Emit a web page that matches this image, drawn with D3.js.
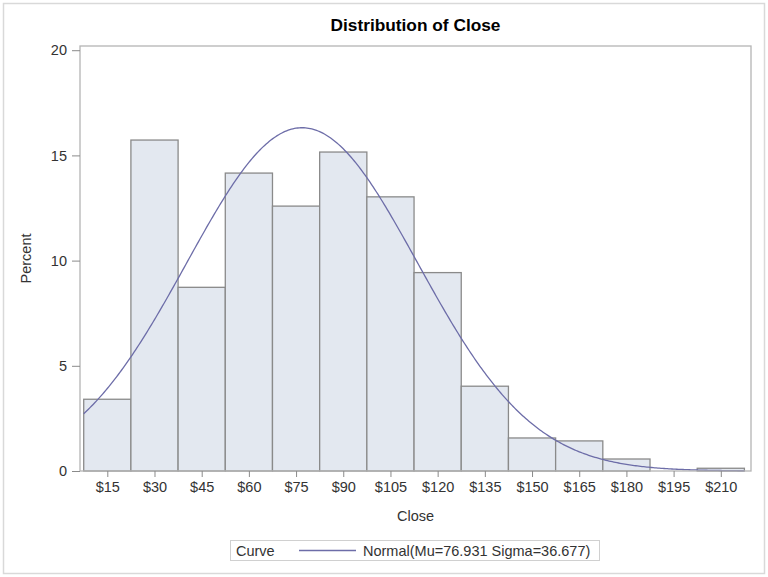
<!DOCTYPE html>
<html><head><meta charset="utf-8">
<script src="https://cdn.jsdelivr.net/npm/d3@7/dist/d3.min.js"></script>
<style>body{margin:0;background:#fff;} text{font-family:"Liberation Sans",Arial,sans-serif;}</style>
</head><body>
<svg id="c" width="768" height="577"></svg>
<script>
// Data
const binMidpoints = [15, 30, 45, 60, 75, 90, 105, 120, 135, 150, 165, 180, 195, 210];
const percents = [3.41, 15.73, 8.73, 14.16, 12.59, 15.16, 13.03, 9.43, 4.03, 1.57, 1.43, 0.57, 0, 0.13];
const binWidth = 15;
const xTicks = [15, 30, 45, 60, 75, 90, 105, 120, 135, 150, 165, 180, 195, 210];
const yTicks = [0, 5, 10, 15, 20];
const mu = 76.931, sigma = 36.677;
const title = "Distribution of Close";
const xLabel = "Close", yLabel = "Percent";
const legendTitle = "Curve";
const legendText = "Normal(Mu=76.931 Sigma=36.677)";

const svg = d3.select("#c");
const L = 80, R = 751, T = 46, B = 471;
const FS = 14.5;
const x = d3.scaleLinear().domain([6.32, 219.6]).range([L, R]);
const y = d3.scaleLinear().domain([0, 20.2]).range([B, T]);

// outer border
svg.append("rect").attr("x", 3.5).attr("y", 3.5).attr("width", 761).attr("height", 570)
  .attr("fill", "#fff").attr("stroke", "#d9d9d9").attr("stroke-width", 1.5);

// title
svg.append("text").attr("x", (L + R) / 2).attr("y", 31).attr("text-anchor", "middle")
  .attr("font-size", 17.3).attr("font-weight", "bold").attr("fill", "#000").text(title);

// bars
svg.append("g").selectAll("rect").data(binMidpoints).join("rect")
  .attr("x", (d) => x(d - binWidth / 2))
  .attr("width", (d) => x(d + binWidth / 2) - x(d - binWidth / 2))
  .attr("y", (d, i) => y(percents[i]))
  .attr("height", (d, i) => y(0) - y(percents[i]))
  .attr("fill", "#e3e8f0").attr("stroke", "#8a8a8a").attr("stroke-width", 1.3);

// normal curve
const curvePts = d3.range(binMidpoints[0] - binWidth / 2, binMidpoints[binMidpoints.length - 1] + binWidth / 2 + 0.01, 0.5)
  .map((v) => [v, 100 * binWidth * Math.exp(-0.5 * ((v - mu) / sigma) ** 2) / (sigma * Math.sqrt(2 * Math.PI))]);
svg.append("path").datum(curvePts)
  .attr("d", d3.line().x((d) => x(d[0])).y((d) => y(d[1])))
  .attr("fill", "none").attr("stroke", "#6d6da8").attr("stroke-width", 1.3);

// frame
svg.append("rect").attr("x", L).attr("y", T).attr("width", R - L).attr("height", B - T)
  .attr("fill", "none").attr("stroke", "#b4b4b4").attr("stroke-width", 1.3);

// y axis
const ya = svg.append("g").attr("transform", `translate(${L},0)`)
  .call(d3.axisLeft(y).tickValues(yTicks).tickSize(8).tickPadding(5));
ya.select(".domain").remove();
ya.selectAll("line").attr("stroke", "#8a8a8a");
ya.selectAll("text").attr("font-size", FS).attr("fill", "#333")
  .attr("font-family", "'Liberation Sans',Arial,sans-serif");

// x axis
const xa = svg.append("g").attr("transform", `translate(0,${B})`)
  .call(d3.axisBottom(x).tickValues(xTicks).tickSize(6).tickPadding(5).tickFormat((d) => "$" + d));
xa.select(".domain").remove();
xa.selectAll("line").attr("stroke", "#8a8a8a");
xa.selectAll("text").attr("font-size", FS).attr("fill", "#333")
  .attr("font-family", "'Liberation Sans',Arial,sans-serif");

// axis labels
svg.append("text").attr("x", (L + R) / 2).attr("y", 521).attr("text-anchor", "middle")
  .attr("font-size", FS).attr("fill", "#333").text(xLabel);
svg.append("text").attr("transform", `translate(31,${(T + B) / 2}) rotate(-90)`).attr("text-anchor", "middle")
  .attr("font-size", FS).attr("fill", "#333").text(yLabel);

// legend
const lg = svg.append("g");
lg.append("rect").attr("x", 230.5).attr("y", 540.5).attr("width", 369).attr("height", 20)
  .attr("fill", "#fff").attr("stroke", "#d0d0d0");
lg.append("text").attr("x", 236).attr("y", 555.5).attr("font-size", FS).attr("fill", "#333").text(legendTitle);
lg.append("line").attr("x1", 299).attr("x2", 356).attr("y1", 550.5).attr("y2", 550.5)
  .attr("stroke", "#6d6da8").attr("stroke-width", 1.3);
lg.append("text").attr("x", 363).attr("y", 555.5).attr("font-size", FS).attr("fill", "#333").text(legendText);
</script>
</body></html>
